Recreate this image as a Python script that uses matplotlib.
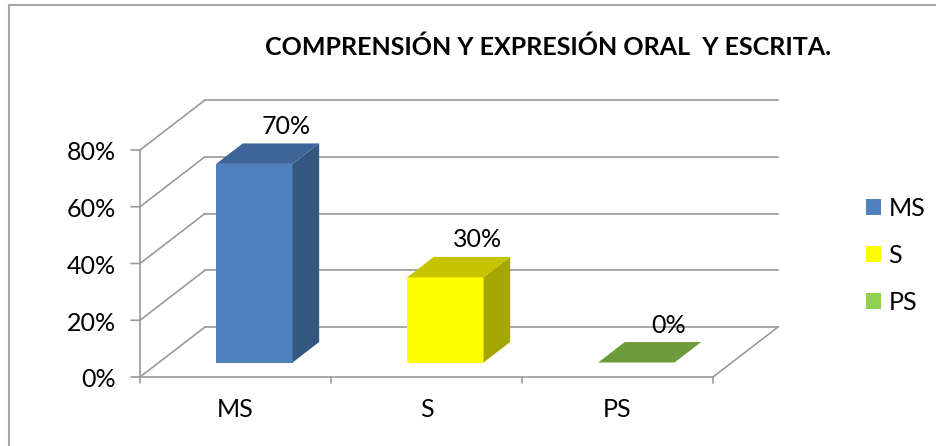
import matplotlib
matplotlib.use('Agg')
import matplotlib.pyplot as plt
from matplotlib.patches import Polygon, Patch
from matplotlib.lines import Line2D

plt.rcParams['font.family'] = ['Lato', 'DejaVu Sans']

# data
categories = ['MS', 'S', 'PS']
values = [70, 30, 0]
yticks = [0, 20, 40, 60, 80]
title = 'COMPRENSIÓN Y EXPRESIÓN ORAL  Y ESCRITA.'

front_col = ['#4F81BD', '#FFFF00', '#77A040']
side_col = ['#34577F', '#A6A600', '#5E8030']
top_col = ['#3D6597', '#C6C300', '#6E9B3C']
legend_col = ['#4F81BD', '#FFFF00', '#92D050']

# fake 3d: depth vector in data units, bars sit between f0 and f1 of depth
dx, dy = 0.34, 17.6
f0, f1 = 0.29, 0.70
bw = 0.4
grid_c = '#9A9A9A'
fs = 18

fig = plt.figure(figsize=(9.36, 4.46), dpi=100)
ax = fig.add_axes([0, 0, 1, 1])
ax.set_xlim(-1.233, 3.6675)
ax.set_ylim(-24.32, 132.86)
ax.axis('off')

x0, x1 = -0.5, len(categories) - 0.5
ymax = yticks[-1]

# back wall gridlines + left wall diagonals
for v in yticks:
    ax.plot([x0 + dx, x1 + dx], [v + dy, v + dy], color=grid_c, lw=1.2, zorder=1)
    ax.plot([x0, x0 + dx], [v, v + dy], color=grid_c, lw=1.2, zorder=1)
# floor
ax.plot([x0, x1], [0, 0], color=grid_c, lw=1.2, zorder=1)
ax.plot([x1, x1 + dx], [0, dy], color=grid_c, lw=1.2, zorder=1)
# front y axis
ax.plot([x0, x0], [0, ymax], color=grid_c, lw=1.2, zorder=1)

tick = dict(arrowstyle='-', color=grid_c, lw=1.2, shrinkA=0, shrinkB=0)
for v in yticks:
    ax.annotate('', xy=(x0, v), xytext=(-9, 0), textcoords='offset pixels', arrowprops=tick)
    ax.annotate(f'{v}%', xy=(x0, v), xytext=(-24, -3), textcoords='offset pixels',
                ha='right', va='center', fontsize=fs)
for i in range(len(categories) + 1):
    ax.annotate('', xy=(x0 + i, 0), xytext=(0, -6), textcoords='offset pixels', arrowprops=tick)
for i, c in enumerate(categories):
    ax.annotate(c, xy=(i, 0), xytext=(0, -33), textcoords='offset pixels',
                ha='center', va='center', fontsize=fs)

# bars
for i, v in enumerate(values):
    l = i - bw / 2 + dx * f0
    r = l + bw
    b = dy * f0
    ddx, ddy = dx * (f1 - f0), dy * (f1 - f0)
    if v > 0:
        ax.add_patch(Polygon([(l, b), (r, b), (r, b + v), (l, b + v)],
                             closed=True, fc=front_col[i], ec='none', zorder=3))
        ax.add_patch(Polygon([(r, b), (r + ddx, b + ddy), (r + ddx, b + ddy + v), (r, b + v)],
                             closed=True, fc=side_col[i], ec='none', zorder=3))
    ax.add_patch(Polygon([(l, b + v), (r, b + v), (r + ddx, b + ddy + v), (l + ddx, b + ddy + v)],
                         closed=True, fc=top_col[i], ec='none', zorder=3))
    ax.text(i + dx * 0.78, v + dy * 0.7 + 6, f'{v}%', ha='center', va='center',
            fontsize=fs, zorder=4)

# title
fig.text(0.5855, 1 - 47 / 446, title, ha='center', va='center',
         fontsize=18, fontweight='bold')

# legend
handles = [Patch(fc=c, ec='none') for c in legend_col]
ax.legend(handles, categories, loc='upper left', bbox_to_anchor=(866 / 936, 1 - 197 / 446),
          bbox_transform=fig.transFigure, frameon=False, fontsize=fs,
          handlelength=0.6, handleheight=0.6, handletextpad=0.3,
          labelspacing=0.96, borderpad=0, borderaxespad=0)

# chart border (left and top edges show)
fig.add_artist(Line2D([9 / 936, 9 / 936], [0, 1 - 5 / 446], color='#A6A6A6', lw=1.5))
fig.add_artist(Line2D([9 / 936, 1], [1 - 5 / 446, 1 - 5 / 446], color='#A6A6A6', lw=1.5))

fig.savefig('out.png', dpi=100)
